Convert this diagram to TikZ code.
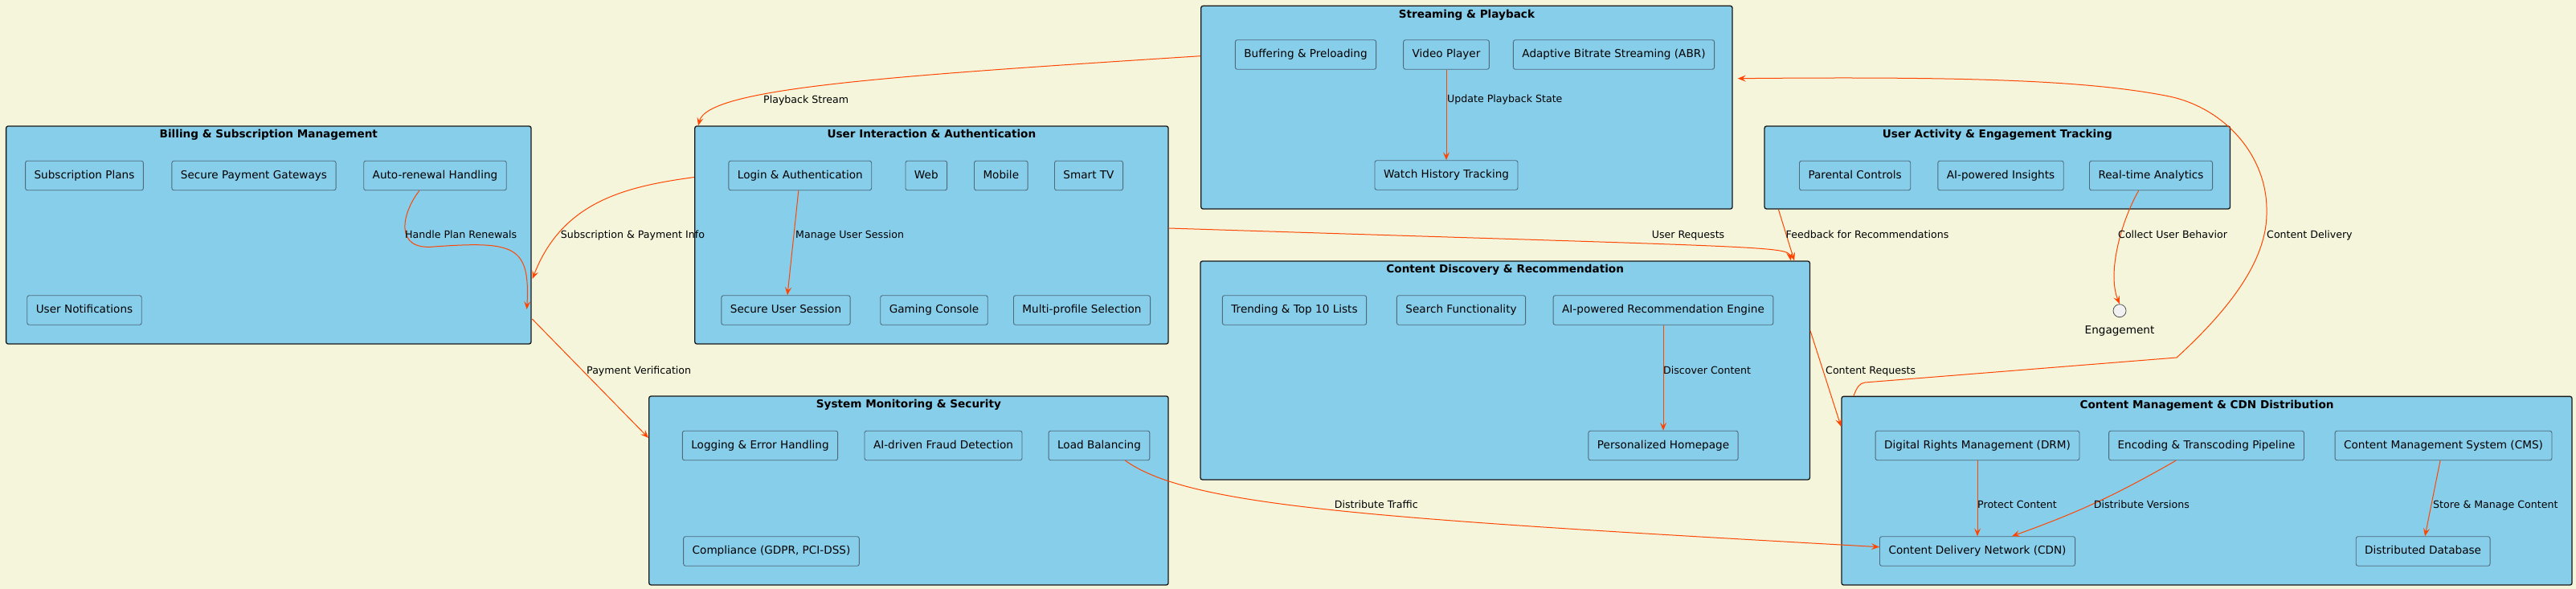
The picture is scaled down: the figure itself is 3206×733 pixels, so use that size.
\documentclass[tikz,border=0pt]{standalone}
\usepackage{fontspec}
\setmainfont{DejaVu Sans}
\usetikzlibrary{positioning,calc,arrows.meta}

\definecolor{pagebg}{HTML}{F5F5DC}
\definecolor{pkgfill}{HTML}{87CEEB}
\definecolor{pkgline}{HTML}{181818}
\definecolor{boxline}{HTML}{4F6A7A}
\definecolor{flowcol}{HTML}{FF4500}
\definecolor{ifacefill}{HTML}{F1F1F1}

\tikzset{
  pkg/.style={draw=pkgline, fill=pkgfill, line width=1.3pt, rounded corners=2.5pt, inner sep=0pt},
  pkgtitle/.style={anchor=base, inner sep=0pt, font=\fontsize{13.6}{15}\selectfont\bfseries},
  item/.style={draw=boxline, fill=pkgfill, line width=0.9pt, rounded corners=2.5pt, inner xsep=11pt, inner ysep=0pt,
    minimum height=36.5pt, text height=10pt, text depth=3pt, font=\fontsize{13.6}{15}\selectfont},
  lbl/.style={anchor=west, inner sep=0pt, text height=9.5pt, text depth=2.7pt, font=\fontsize{12.6}{14}\selectfont},
  flow/.style={draw=flowcol, line width=1pt, -{Stealth[length=10pt,width=8pt,inset=4pt]}},
}

\begin{document}
\begin{tikzpicture}[x=1pt, y=-1pt]
    \useasboundingbox (0,0) rectangle (3206,733);
    \fill[pagebg] (0,0) rectangle (3206,733);

    % Packages
    \node[pkg, minimum width=653.4pt, minimum height=271pt] (billing) at (334.3,292.5) {};
    \node[pkg, minimum width=589.3pt, minimum height=271pt] (ui) at (1159.4,292.5) {};
    \node[pkg, minimum width=661.3pt, minimum height=252.7pt] (stream) at (1825.4,133.7) {};
    \node[pkg, minimum width=579.5pt, minimum height=103pt] (activity) at (2485.8,208.5) {};
    \node[pkg, minimum width=758.4pt, minimum height=272pt] (discovery) at (1873.2,461) {};
    \node[pkg, minimum width=646.3pt, minimum height=235pt] (monitor) at (1130.9,610.5) {};
    \node[pkg, minimum width=909pt, minimum height=234.7pt] (cmgroup) at (2746.5,610.7) {};

    \node[pkgtitle] (billingtitle) at ($(billing.north)+(0,15.5)$) {Billing \& Subscription Management};
    \node[pkgtitle] (uititle) at ($(ui.north)+(0,15.5)$) {User Interaction \& Authentication};
    \node[pkgtitle] (streamtitle) at ($(stream.north)+(0,15.5)$) {Streaming \& Playback};
    \node[pkgtitle] (activitytitle) at ($(activity.north)+(0,15.5)$) {User Activity \& Engagement Tracking};
    \node[pkgtitle] (discoverytitle) at ($(discovery.north)+(0,15.5)$) {Content Discovery \& Recommendation};
    \node[pkgtitle] (monitortitle) at ($(monitor.north)+(0,15.5)$) {System Monitoring \& Security};
    \node[pkgtitle] (cmtitle) at ($(cmgroup.north)+(0,15.5)$) {Content Management \& CDN Distribution};

    % Billing
    \node[item] (plans) at (105,218.5) {Subscription Plans};
    \node[item] (gateways) at (316,218.5) {Secure Payment Gateways};
    \node[item] (autorenew) at (541.5,218.5) {Auto-renewal Handling};
    \node[item] (notify) at (105,386) {User Notifications};

    % User interaction
    \node[item] (login) at (995.8,218.5) {Login \& Authentication};
    \node[item] (web) at (1152.8,218.5) {Web};
    \node[item] (mobile) at (1245.8,218.5) {Mobile};
    \node[item] (smarttv) at (1355,218.5) {Smart TV};
    \node[item] (session) at (978,386) {Secure User Session};
    \node[item] (gaming) at (1162.5,386) {Gaming Console};
    \node[item] (profiles) at (1346.5,386) {Multi-profile Selection};

    % Streaming
    \node[item] (buffering) at (1625,68) {Buffering \& Preloading};
    \node[item] (player) at (1800,68) {Video Player};
    \node[item] (abr) at (2008.5,68) {Adaptive Bitrate Streaming (ABR)};
    \node[item] (history) at (1800,218) {Watch History Tracking};

    % Activity
    \node[item] (parental) at (2308.6,218.5) {Parental Controls};
    \node[item] (insights) at (2490,218.5) {AI-powered Insights};
    \node[item] (analytics) at (2677,218.5) {Real-time Analytics};
    \node[circle, draw=pkgline!75, fill=ifacefill, line width=0.8pt, minimum size=16pt, inner sep=0pt] (engage) at (2638,386.7) {};
    \node[inner sep=0pt, font=\fontsize{13.6}{15}\selectfont] (engagelbl) at (2638,412) {Engagement};

    % Discovery
    \node[item] (trending) at (1611,386) {Trending \& Top 10 Lists};
    \node[item] (search) at (1818.5,386) {Search Functionality};
    \node[item] (recengine) at (2070,386) {AI-powered Recommendation Engine};
    \node[item] (homepage) at (2070,554.5) {Personalized Homepage};

    % Monitoring
    \node[item] (logging) at (946,554.5) {Logging \& Error Handling};
    \node[item] (fraud) at (1174,554.5) {AI-driven Fraud Detection};
    \node[item] (loadbal) at (1368,554.5) {Load Balancing};
    \node[item] (compliance) at (960,686) {Compliance (GDPR, PCI-DSS)};

    % Content management
    \node[item] (drm) at (2461,554.5) {Digital Rights Management (DRM)};
    \node[item] (encoding) at (2746,554.5) {Encoding \& Transcoding Pipeline};
    \node[item] (cmsys) at (3041,554.5) {Content Management System (CMS)};
    \node[item] (cdn) at (2461,686) {Content Delivery Network (CDN)};
    \node[item] (database) at (3015.6,686) {Distributed Database};

    % Flows
    \draw[flow] ([xshift=-19.5pt]autorenew.south) .. controls (500,265) and (490,312) .. (540,307)
        .. controls (640,300) and (660,305) .. ($(billing.east)+(-6,92.5)$);
    \draw[flow] ($(ui.west)+(0,-72)$) .. controls (780,232) and (700,250) .. ($(billing.east)+(1,54.5)$);
    \draw[flow] ($(billing.east)+(0.7,104.5)$) -- ($(monitor.west)+(0,-65.5)$);
    \draw[flow] ($(stream.west)+(0,-64)$) .. controls (1100,95) and (880,110) .. ($(ui.north west)+(5,0)$);
    \draw[flow] (player) -- (history);
    \draw[flow] (login) -- (session);
    \draw[flow] ($(ui.east)+(0,-8.5)$) .. controls (2200,308) and (2226,306) .. ($(discovery.north east)+(-24.4,0)$);
    \draw[flow] ($(activity.south west)+(18,0)$) -- ($(discovery.north east)+(-20,0)$);
    \draw[flow] ([xshift=-15.3pt]analytics.south) .. controls (2640,275) and (2622,340) .. (engage.north);
    \draw[flow] ($(cmgroup.north west)+(15.6,0)$) .. controls (2311,482) and (2314,477) .. (2321,476) -- (2709,445)
        .. controls (2780,380) and (2822,320) .. (2821,263) .. controls (2822,195) and (2770,135) .. (2700,120)
        .. controls (2600,100) and (2450,95) .. ($(stream.east)+(6,-36)$);
    \draw[flow] (recengine) -- (homepage);
    \draw[flow] ($(discovery.east)+(0,-49.3)$) -- ($(cmgroup.west)+(0,-79.7)$);
    \draw[flow] ([xshift=32.5pt]loadbal.south) .. controls (1480,630) and (1700,645) .. ($(cdn.west)+(0,-5.3)$);
    \draw[flow] (drm) -- (cdn);
    \draw[flow] ([xshift=-38pt]encoding.south) to[bend left=5] ([xshift=43pt]cdn.north);
    \draw[flow] ([xshift=-4pt]cmsys.south) -- ([xshift=2.4pt]database.north);

    % Flow labels
    \node[lbl] (lrenew) at (504,293) {Handle Plan Renewals};
    \node[lbl] (lsubpay) at (697.6,293) {Subscription \& Payment Info};
    \node[lbl] (lpayver) at (730,461.7) {Payment Verification};
    \node[lbl] (lplayback) at (950,125) {Playback Stream};
    \node[lbl] (lupdate) at (1801,124) {Update Playback State};
    \node[lbl] (lsession) at (990,293) {Manage User Session};
    \node[lbl] (lrequests) at (2055.6,293) {User Requests};
    \node[lbl] (lfeedback) at (2222.5,293) {Feedback for Recommendations};
    \node[lbl] (lbehavior) at (2636,293) {Collect User Behavior};
    \node[lbl] (ldelivery) at (2821,293) {Content Delivery};
    \node[lbl] (ldiscover) at (2070,462) {Discover Content};
    \node[lbl] (lcontentreq) at (2272,461.7) {Content Requests};
    \node[lbl] (ltraffic) at (1660.6,629) {Distribute Traffic};
    \node[lbl] (lprotect) at (2461,629) {Protect Content};
    \node[lbl] (lversions) at (2605.7,629) {Distribute Versions};
    \node[lbl] (lstore) at (3028,629) {Store \& Manage Content};
\end{tikzpicture}
\end{document}
